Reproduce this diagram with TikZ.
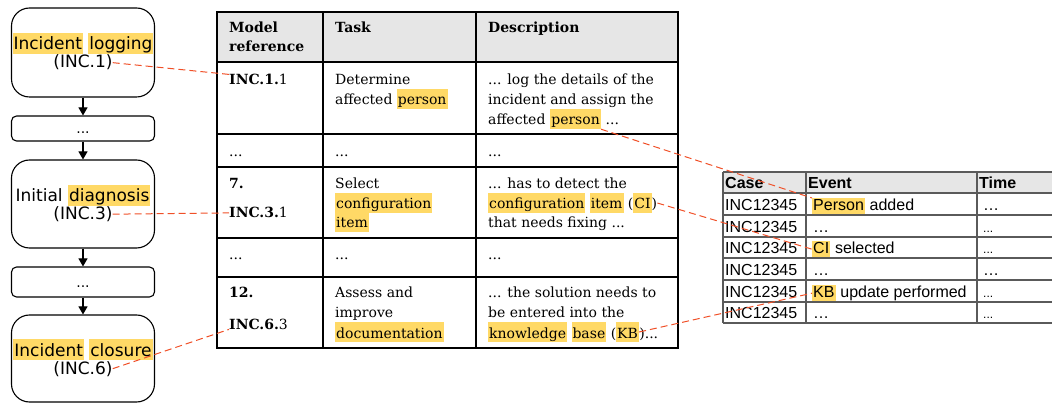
\documentclass[tikz,border=0pt]{standalone}
\usepackage{fontspec}
\setmainfont{DejaVu Serif}
\newfontfamily\boxfont{DejaVu Sans}
\newfontfamily\evfont{Liberation Sans}
\usetikzlibrary{arrows.meta}
\definecolor{hlc}{RGB}{255,217,102}
\definecolor{conn}{RGB}{240,80,40}
\definecolor{hdr}{RGB}{230,230,230}
\definecolor{evline}{RGB}{90,90,90}
\newcommand\hl[1]{{\setlength{\fboxsep}{0pt}\colorbox{hlc}{\hspace{1pt}\rule[-0.2\baselineskip]{0pt}{\baselineskip}#1\hspace{1pt}}}}
\begin{document}
\begin{tikzpicture}[x=1pt,y=-1pt,
  lbox/.style={draw, line width=1.1pt, rounded corners=18pt, minimum width=143pt, inner sep=0},
  sbox/.style={draw, line width=1.1pt, rounded corners=5pt, minimum width=143pt, inner sep=0},
  btxt/.style={inner sep=0, anchor=base, font=\boxfont\fontsize{17}{21}\selectfont},
  dtxt/.style={inner sep=0, anchor=base, font=\boxfont\fontsize{14}{17}\selectfont},
  flow/.style={-{Triangle[length=8pt,width=9pt]}, line width=1.1pt},
  ttxt/.style={inner sep=0, anchor=base west, font=\fontsize{14}{20}\selectfont},
  etxt/.style={inner sep=0, anchor=base west, font=\evfont\fontsize{16}{16}\selectfont},
  stxt/.style={etxt, font=\evfont\fontsize{12}{12}\selectfont},
  tgrid/.style={line width=1.6pt, black},
  egrid/.style={line width=1.1pt, evline},
  link/.style={conn, line width=1pt, dash pattern=on 7pt off 4pt}]
\useasboundingbox (0,0) rectangle (1052,403);

% ---------- left process boxes ----------
\node[lbox, minimum height=89pt] (b1) at (83,52.5) {};
\node[sbox, minimum height=25pt] (b2) at (83,128.5) {};
\node[lbox, minimum height=88pt] (b3) at (83,204) {};
\node[sbox, minimum height=30pt] (b4) at (83,282) {};
\node[lbox, minimum height=87pt] (b5) at (83,358.5) {};

\node[btxt] (b1t) at (83,50) {\hl{Incident} \hl{logging}};
\node[btxt] (b1r) at (83,68) {(INC.1)};
\node[dtxt] (b2t) at (83,134) {...};
\node[btxt] (b3t) at (83,201.5) {Initial \hl{diagnosis}};
\node[btxt] (b3r) at (83,219.5) {(INC.3)};
\node[dtxt] (b4t) at (83,288) {...};
\node[btxt] (b5t) at (83,356) {\hl{Incident} \hl{closure}};
\node[btxt] (b5r) at (83,374) {(INC.6)};

\draw[flow] (b1) -- (b2);
\draw[flow] (b2) -- (b3);
\draw[flow] (b3) -- (b4);
\draw[flow] (b4) -- (b5);

% ---------- main table ----------
\fill[hdr] (217,12) rectangle (678,62);
\draw[tgrid] (217,12) rectangle (678,348);
\foreach \yy in {62,134,167,238,277} \draw[tgrid] (217,\yy) -- (678,\yy);
\foreach \xx in {323,476} \draw[tgrid] (\xx,12) -- (\xx,348);

\node[ttxt] (h1) at (229,33) {\textbf{Model}};
\node[ttxt] (h1b) at (229,52) {\textbf{reference}};
\node[ttxt] (h2) at (335,33) {\textbf{Task}};
\node[ttxt] (h3) at (488,33) {\textbf{Description}};

\node[ttxt] (r1) at (229,85) {\textbf{INC.1.}1};
\node[ttxt] (t1a) at (335,85) {Determine};
\node[ttxt] (t1b) at (335,105) {affected \hl{person}};
\node[ttxt] (d1a) at (488,85) {... log the details of the};
\node[ttxt] (d1b) at (488,105) {incident and assign the};
\node[ttxt] (d1c) at (488,125) {affected};
\node[ttxt] (d1p) at ([xshift=4.4pt]d1c.base east) {\hl{person}};
\node[ttxt] (d1d) at ([xshift=4.4pt]d1p.base east) {...};

\node[ttxt] (r2) at (229,157) {...};
\node[ttxt] (t2) at (335,157) {...};
\node[ttxt] (d2) at (488,157) {...};

\node[ttxt] (n3) at (229,189) {\textbf{7.}};
\node[ttxt] (r3) at (229,218) {\textbf{INC.3.}1};
\node[ttxt] (t3a) at (335,189) {Select};
\node[ttxt] (t3b) at (335,209) {\hl{configuration}};
\node[ttxt] (t3c) at (335,228) {\hl{item}};
\node[ttxt] (d3a) at (488,189) {... has to detect the};
\node[ttxt] (d3b) at (488,209) {\hl{configuration} \hl{item} (\hl{CI})};
\node[ttxt] (d3c) at (488,228) {that needs fixing ...};

\node[ttxt] (r4) at (229,260) {...};
\node[ttxt] (t4) at (335,260) {...};
\node[ttxt] (d4) at (488,260) {...};

\node[ttxt] (n5) at (229,298) {\textbf{12.}};
\node[ttxt] (r5) at (229,329) {\textbf{INC.6.}3};
\node[ttxt] (t5a) at (335,298) {Assess and};
\node[ttxt] (t5b) at (335,318) {improve};
\node[ttxt] (t5c) at (335,338) {\hl{documentation}};
\node[ttxt] (d5a) at (488,298) {... the solution needs to};
\node[ttxt] (d5b) at (488,318) {be entered into the};
\node[ttxt] (d5c) at (488,338) {\hl{knowledge} \hl{base} (\hl{KB}};
\node[ttxt] (d5d) at (d5c.base east) {)...};

% ---------- event log table ----------
\fill[hdr] (723,172) rectangle (1052,193);
\foreach \yy in {172,193,215,237,258,280,302,323} \draw[egrid] (723,\yy) -- (1052,\yy);
\foreach \xx in {723,806,977} \draw[egrid] (\xx,172) -- (\xx,323);

\node[etxt] (eh1) at (725,189) {\textbf{Case}};
\node[etxt] (eh2) at (808,189) {\textbf{Event}};
\node[etxt] (eh3) at (979,189) {\textbf{Time}};

\node[etxt] (c1) at (725,211) {INC12345};
\node[etxt] (c2) at (725,233) {INC12345};
\node[etxt] (c3) at (725,254) {INC12345};
\node[etxt] (c4) at (725,276) {INC12345};
\node[etxt] (c5) at (725,298) {INC12345};
\node[etxt] (c6) at (725,319) {INC12345};

\node[etxt] (ep) at (812,211) {\hl{Person}};
\node[etxt] (ep2) at ([xshift=4.4pt]ep.base east) {added};
\node[etxt] (e2) at (813,233) {…};
\node[etxt] (eci) at (812,254) {\hl{CI}};
\node[etxt] (eci2) at ([xshift=4.4pt]eci.base east) {selected};
\node[etxt] (e4) at (813,276) {…};
\node[etxt] (ekb) at (812,298) {\hl{KB}};
\node[etxt] (ekb2) at ([xshift=4.4pt]ekb.base east) {update performed};
\node[etxt] (e6) at (813,319) {…};

\node[etxt] (m1) at (983,211) {…};
\node[stxt] (m2) at (983,233) {...};
\node[stxt] (m3) at (983,254) {...};
\node[etxt] (m4) at (983,276) {…};
\node[stxt] (m5) at (983,298) {...};
\node[stxt] (m6) at (983,319) {...};

% ---------- connectors ----------
\draw[link] (b1r.east) -- (r1.north west);
\draw[link] (b3r.east) -- (r3.west);
\draw[link] (b5r.east) -- (r5.south west);
\draw[link] (d1p.south east) -- (ep.north west);
\draw[link] (d3b.east) -- (eci.west);
\draw[link] (d5c.east) -- (ekb.west);
\end{tikzpicture}
\end{document}
